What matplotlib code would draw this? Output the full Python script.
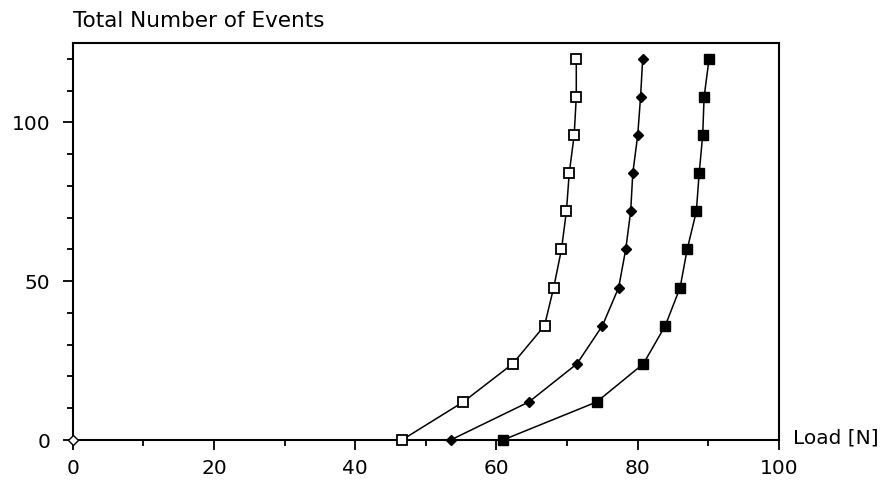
import numpy as np
import matplotlib.pyplot as plt
from matplotlib.ticker import MultipleLocator

# event counts (same for all three curves)
events = [0, 12, 24, 36, 48, 60, 72, 84, 96, 108, 120]

# load values
load_open = [46.6, 55.3, 62.3, 66.8, 68.1, 69.2, 69.9, 70.3, 71.0, 71.3, 71.3]
load_diamond = [53.5, 64.6, 71.4, 75.0, 77.3, 78.3, 79.0, 79.3, 80.0, 80.4, 80.7]
load_filled = [60.9, 74.2, 80.8, 83.9, 86.0, 87.0, 88.3, 88.7, 89.2, 89.4, 90.1]

# lone marker sitting at the origin
origin_x = [0]
origin_y = [0]

x_ticks = [0, 20, 40, 60, 80, 100]
y_ticks = [0, 50, 100]

plt.rcParams['font.family'] = ['DejaVu Sans']
fig = plt.figure(figsize=(8.85, 4.83), dpi=100)
ax = fig.add_axes([0.0822, 0.089, 0.798, 0.822])

# curves with their markers
ax.plot(load_open, events, color='black', lw=1.1, marker='s', ms=7,
        mfc='white', mec='black', mew=1.3, clip_on=False, zorder=3)
ax.plot(load_diamond, events, color='black', lw=1.1, marker='D', ms=5.5,
        mfc='black', mec='black', clip_on=False, zorder=3)
ax.plot(load_filled, events, color='black', lw=1.1, marker='s', ms=7.5,
        mfc='black', mec='black', clip_on=False, zorder=3)
ax.plot(origin_x, origin_y, linestyle='none', marker='D', ms=5,
        mfc='white', mec='black', mew=1.0, clip_on=False, zorder=4)

ax.set_xlim(0, 100)
ax.set_ylim(0, 125)
ax.set_xticks(x_ticks)
ax.set_yticks(y_ticks)
ax.xaxis.set_minor_locator(MultipleLocator(10))
ax.yaxis.set_minor_locator(MultipleLocator(10))

for s in ax.spines.values():
    s.set_linewidth(1.5)

ax.tick_params(axis='both', which='major', direction='out', length=7,
               width=1.3, labelsize=14.5, color='black')
ax.tick_params(axis='both', which='minor', direction='out', length=4.5,
               width=1.3)
ax.tick_params(axis='x', which='major', pad=7)
ax.tick_params(axis='y', which='major', pad=9)

# axis titles sit at the ends of the axes, as in the reference
ax.text(0.0, 1.03, 'Total Number of Events', transform=ax.transAxes,
        ha='left', va='bottom', fontsize=15.5)
ax.text(1.02, 0.005, 'Load [N]', transform=ax.transAxes,
        ha='left', va='center', fontsize=14.5)

fig.savefig('out.png', dpi=100)
